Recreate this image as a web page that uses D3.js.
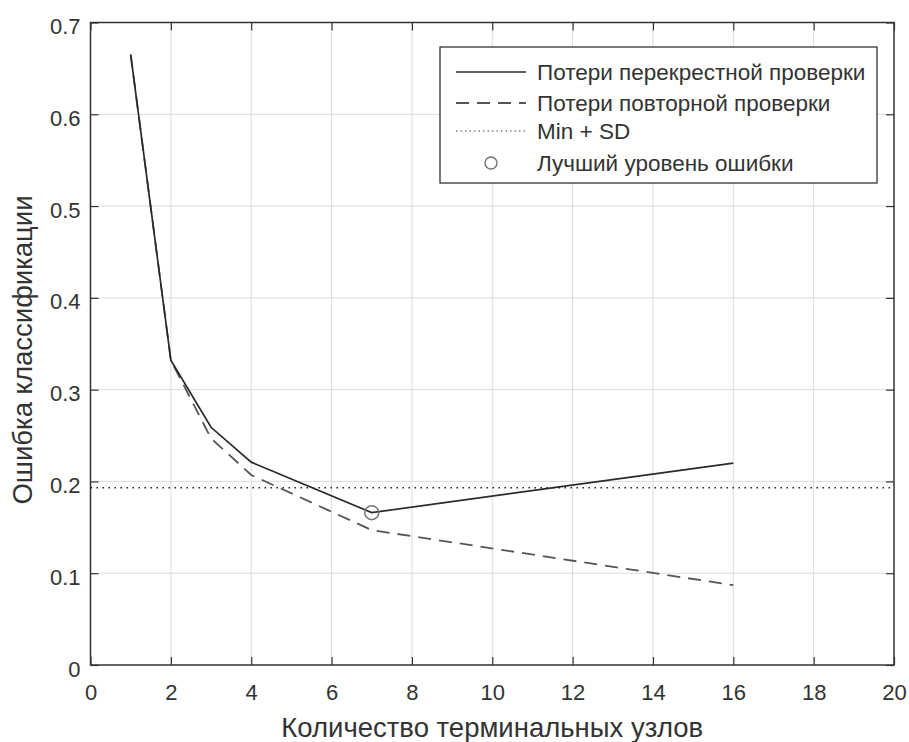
<!DOCTYPE html>
<html>
<head>
<meta charset="utf-8">
<script src="https://cdn.jsdelivr.net/npm/d3@7"></script>
<style>
  html, body { margin: 0; padding: 0; background: #fff; }
  svg text { font-family: "Liberation Sans", Arial, sans-serif; fill: #333; }
</style>
</head>
<body>
<svg id="chart" width="909" height="742"></svg>
<script>
// Number of terminal nodes and classification error for the two loss curves
const nodesCV = [1, 2, 3, 4, 7, 16];
const lossCV = [0.665, 0.332, 0.259, 0.221, 0.166, 0.220];
const nodesResub = [1, 2, 3, 4, 7, 16];
const lossResub = [0.665, 0.332, 0.247, 0.207, 0.147, 0.087];
const minPlusSD = 0.193;
const bestNodes = 7;
const bestLoss = 0.166;

const xTicks = [0, 2, 4, 6, 8, 10, 12, 14, 16, 18, 20];
const yTicks = [0, 0.1, 0.2, 0.3, 0.4, 0.5, 0.6, 0.7];

const legendLabels = [
  "Потери перекрестной проверки",
  "Потери повторной проверки",
  "Min + SD",
  "Лучший уровень ошибки"
];
const xLabel = "Количество терминальных узлов";
const yLabel = "Ошибка классификации";

const svg = d3.select("#chart");
const plotL = 90.5, plotR = 894, plotT = 22.5, plotB = 665;

const x = d3.scaleLinear().domain([0, 20]).range([plotL, plotR]);
const y = d3.scaleLinear().domain([0, 0.7]).range([plotB, plotT]);

// grid
const grid = svg.append("g").attr("stroke", "#dcdcdc").attr("stroke-width", 1);
grid.selectAll("line.gx").data(xTicks.slice(1, -1)).join("line")
  .attr("x1", d => x(d)).attr("x2", d => x(d))
  .attr("y1", plotT).attr("y2", plotB);
grid.selectAll("line.gy").data(yTicks.slice(1, -1)).join("line")
  .attr("x1", plotL).attr("x2", plotR)
  .attr("y1", d => y(d)).attr("y2", d => y(d));

// axes with inward ticks on all four sides
const tickLen = 8;
const fmtY = d => d === 0 ? "0" : d3.format(".1f")(d);
const axB = svg.append("g").attr("transform", `translate(0,${plotB})`)
  .call(d3.axisBottom(x).tickValues(xTicks).tickSizeInner(-tickLen).tickSizeOuter(0).tickPadding(19));
const axT = svg.append("g").attr("transform", `translate(0,${plotT})`)
  .call(d3.axisTop(x).tickValues(xTicks).tickSizeInner(-tickLen).tickSizeOuter(0).tickFormat(""));
const axL = svg.append("g").attr("transform", `translate(${plotL},0)`)
  .call(d3.axisLeft(y).tickValues(yTicks).tickSizeInner(-tickLen).tickSizeOuter(0).tickPadding(10).tickFormat(fmtY));
const axR = svg.append("g").attr("transform", `translate(${plotR},0)`)
  .call(d3.axisRight(y).tickValues(yTicks).tickSizeInner(-tickLen).tickSizeOuter(0).tickFormat(""));
[axB, axT, axL, axR].forEach(a => {
  a.select(".domain").remove();
  a.selectAll(".tick line").attr("stroke", "#333").attr("stroke-width", 1.2);
  a.selectAll(".tick text").attr("font-size", 22).attr("fill", "#3a3a3a")
    .attr("font-family", "Liberation Sans, Arial, sans-serif");
});
axL.selectAll(".tick text").attr("dy", "0.5em");

// frame
svg.append("rect").attr("x", plotL).attr("y", plotT)
  .attr("width", plotR - plotL).attr("height", plotB - plotT)
  .attr("fill", "none").attr("stroke", "#333").attr("stroke-width", 1.5);

// Min + SD reference
svg.append("line")
  .attr("x1", plotL).attr("x2", plotR)
  .attr("y1", y(minPlusSD)).attr("y2", y(minPlusSD))
  .attr("stroke", "#222").attr("stroke-width", 1.5).attr("stroke-dasharray", "1.5,4.5");

const line = d3.line().x(d => x(d[0])).y(d => y(d[1]));

// resubstitution loss (dashed)
svg.append("path").datum(d3.zip(nodesResub, lossResub))
  .attr("d", line).attr("fill", "none")
  .attr("stroke", "#555").attr("stroke-width", 1.8).attr("stroke-dasharray", "13,8");

// cross-validation loss (solid)
svg.append("path").datum(d3.zip(nodesCV, lossCV))
  .attr("d", line).attr("fill", "none")
  .attr("stroke", "#2a2a2a").attr("stroke-width", 1.7);

// best level marker
svg.append("circle").attr("cx", x(bestNodes)).attr("cy", y(bestLoss)).attr("r", 7)
  .attr("fill", "none").attr("stroke", "#777").attr("stroke-width", 1.5);

// axis titles
svg.append("text").attr("x", (plotL + plotR) / 2).attr("y", 737)
  .attr("text-anchor", "middle").attr("font-size", 27.5).text(xLabel);
svg.append("text").attr("transform", `translate(32,350) rotate(-90)`)
  .attr("text-anchor", "middle").attr("font-size", 27.5).text(yLabel);

// legend
const lg = svg.append("g");
lg.append("rect").attr("x", 440).attr("y", 47).attr("width", 437).attr("height", 136)
  .attr("fill", "#fff").attr("stroke", "#333").attr("stroke-width", 1.3);
const rowsY = [72, 103, 131, 163];
const sampleX0 = 456, sampleX1 = 526, textX = 537;
lg.append("line").attr("x1", sampleX0).attr("x2", sampleX1).attr("y1", rowsY[0]).attr("y2", rowsY[0])
  .attr("stroke", "#2a2a2a").attr("stroke-width", 1.7);
lg.append("line").attr("x1", sampleX0).attr("x2", sampleX1).attr("y1", rowsY[1]).attr("y2", rowsY[1])
  .attr("stroke", "#555").attr("stroke-width", 1.8).attr("stroke-dasharray", "13,8");
lg.append("line").attr("x1", sampleX0).attr("x2", sampleX1).attr("y1", rowsY[2]).attr("y2", rowsY[2])
  .attr("stroke", "#444").attr("stroke-width", 1).attr("stroke-dasharray", "1.5,3");
lg.append("circle").attr("cx", (sampleX0 + sampleX1) / 2).attr("cy", rowsY[3]).attr("r", 6)
  .attr("fill", "none").attr("stroke", "#777").attr("stroke-width", 1.5);
lg.selectAll("text.leg").data(legendLabels).join("text")
  .attr("x", textX).attr("y", (d, i) => rowsY[i]).attr("dy", "0.36em")
  .attr("font-size", 22.5).text(d => d);
</script>
</body>
</html>
